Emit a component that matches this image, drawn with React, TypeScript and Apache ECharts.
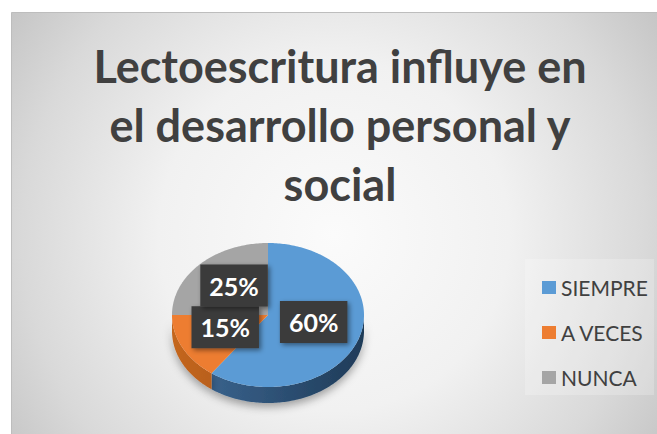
import React, { useEffect, useRef } from "react";
import * as echarts from "echarts";

const categories = ["SIEMPRE", "A VECES", "NUNCA"];
const values = [60, 15, 25];
const titleLines = ["Lectoescritura influye en", "el desarrollo personal y", "social"];

const topColors = ["#5b9bd5", "#ed7d31", "#a5a5a5"];
const sideColors = [
  ["#3f6b98", "#1f3b58"],
  ["#c4661f", "#8f4a17"],
  ["#8a8a8a", "#6a6a6a"],
];

const FONT = "Lato, 'Noto Sans', sans-serif";
const CX = 268;
const CY = 315;
const RX = 96;
const RY = 72;
const DEPTH = 16;

function pt(theta: number, dy = 0): number[] {
  return [CX + RX * Math.sin(theta), CY - RY * Math.cos(theta) + dy];
}

function arc(a: number, b: number, dy = 0): number[][] {
  const pts: number[][] = [];
  const n = Math.max(2, Math.ceil(((b - a) * 180) / Math.PI));
  for (let i = 0; i <= n; i++) pts.push(pt(a + ((b - a) * i) / n, dy));
  return pts;
}

export default function App() {
  const ref = useRef<HTMLDivElement>(null);
  useEffect(() => {
    if (!ref.current) return;
    const chart = echarts.init(ref.current, undefined, { renderer: "svg" });
    const total = values.reduce((s, v) => s + v, 0);
    let cum = 0;
    const series = categories.map((name, i) => {
      const start = cum;
      cum += values[i];
      return {
        type: "custom",
        name,
        coordinateSystem: "none",
        itemStyle: { color: topColors[i] },
        data: [[values[i], start, total]],
        renderItem: (params: any, api: any) => {
          const v = api.value(0);
          const s = api.value(1);
          const t = api.value(2);
          const a0 = (s / t) * Math.PI * 2;
          const a1 = ((s + v) / t) * Math.PI * 2;
          const children: any[] = [];
          const ss = Math.max(a0, Math.PI / 2);
          const se = Math.min(a1, (Math.PI * 3) / 2);
          if (ss < se) {
            const upper = arc(ss, se);
            const lower = arc(ss, se, DEPTH).reverse();
            children.push({
              type: "polygon",
              z2: 1,
              shape: { points: upper.concat(lower) },
              style: {
                fill: new echarts.graphic.LinearGradient(
                  CX - RX, 0, CX + RX, 0,
                  [
                    { offset: 0, color: sideColors[i][0] },
                    { offset: 1, color: sideColors[i][1] },
                  ],
                  true
                ),
                shadowBlur: 8,
                shadowColor: "rgba(0,0,0,0.35)",
                shadowOffsetY: 4,
              },
            });
          }
          children.push({
            type: "polygon",
            z2: 10,
            shape: { points: [[CX, CY]].concat(arc(a0, a1)) },
            style: { fill: topColors[i] },
          });
          const mid = (a0 + a1) / 2;
          const lp = [CX + RX * 0.5 * Math.sin(mid), CY - RY * 0.5 * Math.cos(mid) - 4];
          children.push({
            type: "text",
            z2: 20 + i,
            x: lp[0],
            y: lp[1],
            style: {
              text: Math.round((v / t) * 100) + "%",
              fill: "#ffffff",
              font: "bold 25px " + FONT,
              align: "center",
              verticalAlign: "middle",
              backgroundColor: "#3b3b3b",
              padding: [9, 9, 8, 9],
              shadowBlur: 5,
              shadowColor: "rgba(0,0,0,0.45)",
              shadowOffsetX: 2,
              shadowOffsetY: 2,
            },
          });
          return { type: "group", children };
        },
      };
    });

    chart.setOption({
      animation: false,
      color: topColors,
      graphic: [
        {
          type: "rect",
          z: 0,
          shape: { x: 11.5, y: 12.5, width: 660, height: 440 },
          style: {
            fill: new echarts.graphic.RadialGradient(
              334, 235, 390,
              [
                { offset: 0, color: "#fbfbfb" },
                { offset: 0.45, color: "#f1f1f1" },
                { offset: 0.8, color: "#d9d9d9" },
                { offset: 1, color: "#c6c6c6" },
              ],
              true
            ),
            stroke: "#bdbdbd",
            lineWidth: 1,
          },
        },
        {
          type: "rect",
          z: 1,
          shape: { x: 525, y: 259, width: 129, height: 136 },
          style: { fill: "rgba(255,255,255,0.22)" },
        },
        {
          type: "text",
          z: 1,
          x: 340,
          y: 36,
          style: {
            text: titleLines.join("\n"),
            font: "bold 45px " + FONT,
            fill: "#404040",
            align: "center",
            verticalAlign: "top",
            lineHeight: 59,
          },
        },
      ],
      legend: {
        orient: "vertical",
        left: 537,
        top: 272,
        itemWidth: 14,
        itemHeight: 13,
        itemGap: 24,
        icon: "rect",
        data: categories,
        textStyle: { fontSize: 21, color: "#404040", fontFamily: FONT, lineHeight: 21 },
      },
      series,
    });
    return () => chart.dispose();
  }, []);
  return (
    <div
      ref={ref}
      style={{ position: "absolute", left: 0, top: 0, width: 657, height: 434 }}
    />
  );
}
